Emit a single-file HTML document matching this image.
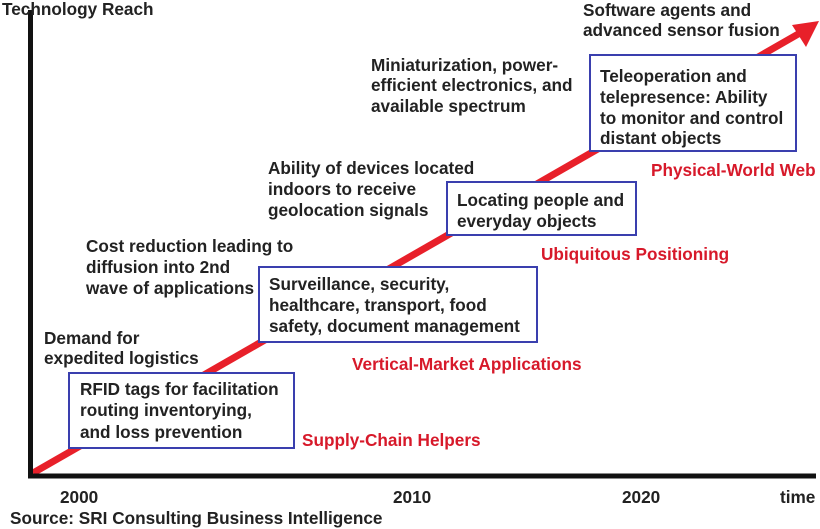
<!DOCTYPE html>
<html><head><meta charset="utf-8"><style>
html,body{margin:0;padding:0;background:#fff;}
svg{display:block;}
text{font-family:"Liberation Sans",Arial,sans-serif;font-weight:bold;font-size:17.2px;fill:#222;}
.r{fill:#d7192a;}
</style></head><body>
<svg width="820" height="529" viewBox="0 0 820 529">
<line x1="33" y1="473" x2="800" y2="33" stroke="#e8202a" stroke-width="7"/>
<polygon points="819,21 792,25 806,47" fill="#e8202a"/>
<line x1="30.5" y1="10" x2="30.5" y2="478" stroke="#111" stroke-width="5"/>
<line x1="28" y1="476" x2="816" y2="476" stroke="#111" stroke-width="5"/>
<g fill="#fff" stroke="#3a3fae" stroke-width="2">
<rect x="69" y="373" width="225" height="75"/>
<rect x="259" y="267" width="278" height="75"/>
<rect x="447" y="182" width="189" height="53"/>
<rect x="590" y="55" width="206" height="96"/>
</g>
<text x="2" y="15">Technology Reach</text>
<text x="583" y="16">Software agents and</text>
<text x="583" y="36">advanced sensor fusion</text>
<text x="371" y="71">Miniaturization, power-</text>
<text x="371" y="91">efficient electronics, and</text>
<text x="371" y="112">available spectrum</text>
<text x="600" y="82">Teleoperation and</text>
<text x="600" y="103">telepresence: Ability</text>
<text x="600" y="124">to monitor and control</text>
<text x="600" y="144">distant objects</text>
<text class="r" x="651" y="176">Physical-World Web</text>
<text x="268" y="174">Ability of devices located</text>
<text x="268" y="195">indoors to receive</text>
<text x="268" y="216">geolocation signals</text>
<text x="457" y="206">Locating people and</text>
<text x="457" y="227">everyday objects</text>
<text class="r" x="541" y="260">Ubiquitous Positioning</text>
<text x="86" y="252">Cost reduction leading to</text>
<text x="86" y="273">diffusion into 2nd</text>
<text x="86" y="294">wave of applications</text>
<text x="269" y="290">Surveillance, security,</text>
<text x="269" y="311">healthcare, transport, food</text>
<text x="269" y="332">safety, document management</text>
<text class="r" x="352" y="370">Vertical-Market Applications</text>
<text x="44" y="344">Demand for</text>
<text x="44" y="364">expedited logistics</text>
<text x="80" y="395">RFID tags for facilitation</text>
<text x="80" y="416">routing inventorying,</text>
<text x="80" y="438">and loss prevention</text>
<text class="r" x="302" y="446">Supply-Chain Helpers</text>
<text x="60" y="503">2000</text>
<text x="393" y="503">2010</text>
<text x="622" y="503">2020</text>
<text x="780" y="503">time</text>
<text x="10" y="524">Source: SRI Consulting Business Intelligence</text>
</svg>
</body></html>
